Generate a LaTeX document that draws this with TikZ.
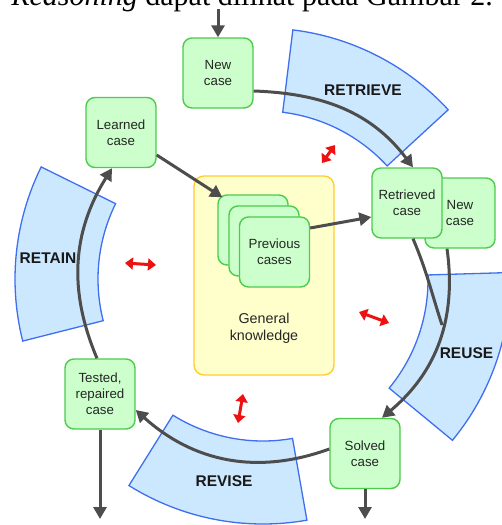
\documentclass[tikz,border=0pt]{standalone}
\usepackage{fontspec}
\setmainfont{Liberation Sans}
\newfontfamily\capfont{Liberation Serif}
\usetikzlibrary{arrows.meta,calc}
\definecolor{boxfill}{HTML}{CCFFCC}
\definecolor{boxline}{HTML}{4CCB4C}
\definecolor{secfill}{HTML}{CCE8FF}
\definecolor{secline}{HTML}{3F6FEF}
\definecolor{gkfill}{HTML}{FFFFCC}
\definecolor{gkline}{HTML}{FFCC33}
\definecolor{arrgray}{HTML}{4D4D4D}
\definecolor{arrred}{HTML}{EE1111}
\begin{document}
\begin{tikzpicture}[x=1pt,y=1pt,
  casebox/.style={draw=boxline, fill=boxfill, line width=1.4pt, rounded corners=9pt,
    minimum width=70pt, minimum height=70pt, inner sep=0pt, align=center,
    font=\fontsize{13.3}{16}\selectfont, text=black!85},
  sector/.style={draw=secline, fill=secfill, line width=1.3pt, line join=miter},
  seclabel/.style={font=\bfseries\fontsize{15.5}{18}\selectfont, text=black!90, inner sep=0pt},
  flow/.style={draw=arrgray, line width=3pt, -{Triangle[width=13pt,length=12pt]}},
  link/.style={draw=arrgray, line width=3pt},
  exch/.style={draw=arrred, line width=3pt, {Triangle[width=12pt,length=8pt]}-{Triangle[width=12pt,length=8pt]}}
]
\useasboundingbox (0,0) rectangle (502,-525);
\clip (0,0) rectangle (502,-525);

% cropped caption line of the page
\node[anchor=base east, font=\capfont\fontsize{30}{36}\selectfont, inner sep=0pt] (cap) at (493,-5.5)
  {\textit{Reasoning} dapat dilihat pada Gambar 2.};

% sectors
\draw[sector] ($(262,-281)+(42.6:253pt)$) arc[start angle=42.6, end angle=83, radius=253pt]
  -- ($(262,-281)+(83:170pt)$) arc[start angle=83, end angle=42.6, radius=170pt] -- cycle;
\draw[sector] ($(268,-279)+(153.7:253pt)$) arc[start angle=153.7, end angle=194.2, radius=253pt]
  -- ($(268,-279)+(194.2:170pt)$) arc[start angle=194.2, end angle=153.7, radius=170pt] -- cycle;
\draw[sector] ($(258,-280)+(-39.5:252pt)$) arc[start angle=-39.5, end angle=1.7, radius=252pt]
  -- ($(258,-280)+(1.7:170pt)$) arc[start angle=1.7, end angle=-39.5, radius=170pt] -- cycle;
\draw[sector] ($(263,-271)+(238:253pt)$) arc[start angle=238, end angle=280, radius=253pt]
  -- ($(263,-271)+(280:170pt)$) arc[start angle=280, end angle=238, radius=170pt] -- cycle;

\node[seclabel] (lretrieve) at (363,-90) {RETRIEVE};
\node[seclabel] (lretain) at (48,-258) {RETAIN};
\node[seclabel] (lreuse) at (466.5,-353) {REUSE};
\node[seclabel] (lrevise) at (224,-481) {REVISE};

% general knowledge
\node[draw=gkline, fill=gkfill, line width=1.4pt, rounded corners=10pt,
  minimum width=140pt, minimum height=199pt, inner sep=0pt] (gk) at (264,-275.5) {};
\node[align=center, font=\fontsize{14.3}{17}\selectfont, text=black!85] (gktext) at (264,-328) {General\\knowledge};

% case boxes
\node[casebox] (newcase) at (218,-73) {New\\case};
\node[casebox] (learned) at (121,-132.5) {Learned\\case};
\node[casebox] (newcase2) at (460,-213) {New\\case};
\node[casebox] (retrieved) at (407,-203) {Retrieved\\case};
\node[casebox] (prevA) at (253,-230) {};
\node[casebox] (prevB) at (264,-241) {};
\node[casebox] (prevC) at (274.5,-252) {Previous\\cases};
\node[casebox] (tested) at (100,-394) {Tested,\\repaired\\case};
\node[casebox] (solved) at (365,-453.5) {Solved\\case};

% flows
\coordinate (entry) at (218,-9);
\coordinate (outA) at (100,-519);
\coordinate (outB) at (365,-519);
\coordinate (merge) at (442,-325);
\draw[flow] (entry) -- (newcase.north);
\draw[flow] ([yshift=-18pt]newcase.east) to[out=-2, in=127] ([xshift=6pt]retrieved.north);
\draw[flow] ([yshift=-22.5pt]learned.east) -- ($(prevA.north west)+(5,-3)$);
\draw[flow] ([yshift=24pt]prevC.east) -- ([yshift=-14pt]retrieved.west);
\draw[link] ([xshift=6pt]retrieved.south) to[out=-67, in=108] (merge);
\draw[flow] ([xshift=-13pt]newcase2.south) to[out=-82, in=40] ([xshift=17pt]solved.north);
\draw[flow] ([yshift=4.5pt]solved.west) to[out=-160, in=-42] ([yshift=-16pt]tested.east);
\draw[flow] ([xshift=-3pt]tested.north) to[out=113, in=-122] ([xshift=-9pt]learned.south);
\draw[flow] (tested.south) -- (outA);
\draw[flow] (solved.south) -- (outB);

% exchanges with general knowledge
\coordinate (xa1) at (322,-163); \coordinate (xa2) at (335,-145);
\coordinate (xb1) at (125,-263); \coordinate (xb2) at (156,-265);
\coordinate (xc1) at (359,-312); \coordinate (xc2) at (389,-323);
\coordinate (xd1) at (243,-394); \coordinate (xd2) at (238,-423);
\draw[exch] (xa1) -- (xa2);
\draw[exch] (xb1) -- (xb2);
\draw[exch] (xc1) -- (xc2);
\draw[exch] (xd1) -- (xd2);
\end{tikzpicture}
\end{document}
